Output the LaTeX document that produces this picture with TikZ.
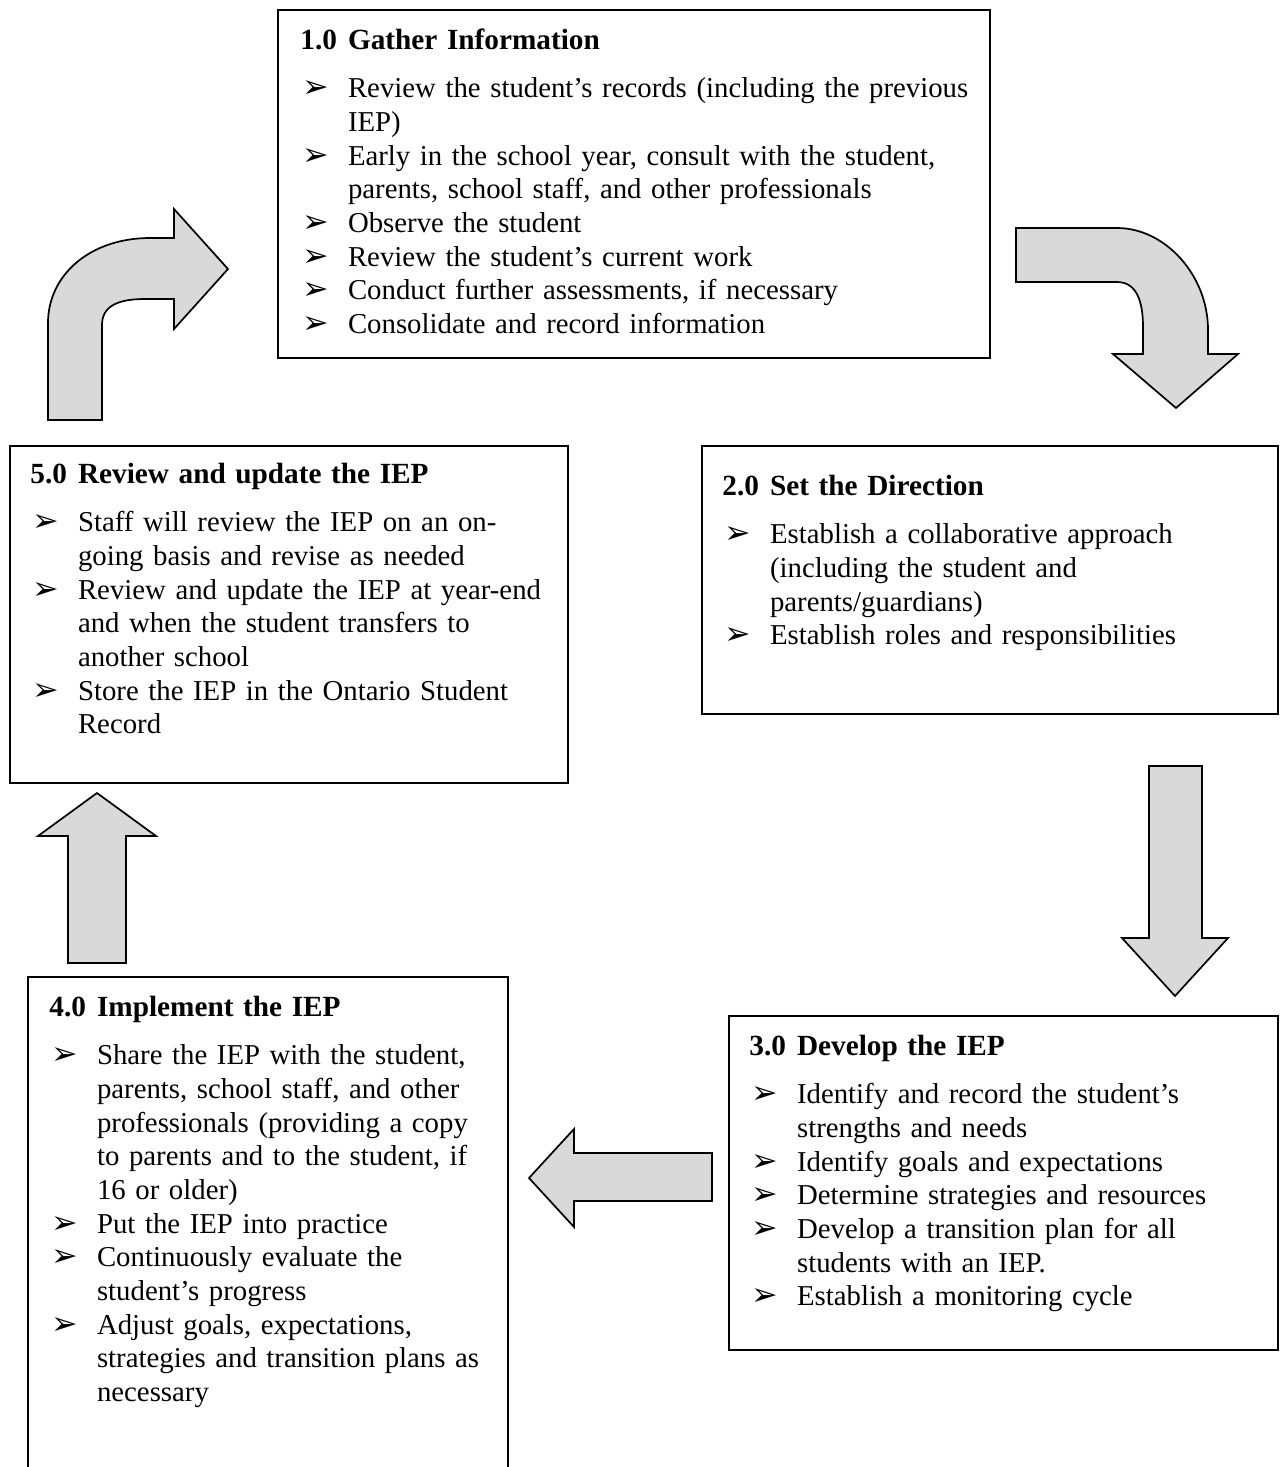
\documentclass[tikz,border=0pt]{standalone}
\usepackage{fontspec}
\setmainfont{Liberation Serif}
\newfontfamily\bulfont{DejaVu Sans}

\definecolor{arrowgray}{HTML}{D9D9D9}

\newlength{\bulind}
\setlength{\bulind}{19.5pt}
\newcommand{\bul}{\hbox to\bulind{\hspace{1pt}{\bulfont\fontsize{13}{13}\selectfont ➢}\hss}}
\newcommand{\bitem}[1]{\par\hangindent=\bulind\hangafter=1\noindent\bul#1}
\newcommand{\steptitle}[2]{\noindent\rule{0pt}{10pt}{\fontsize{12}{13.8}\selectfont\textbf{\makebox[\bulind][l]{#1}#2}}\par\vspace{6pt}}

\tikzset{
    stepbox/.style={draw, line width=0.8pt},
    steptext/.style={anchor=north west, inner sep=0pt, align=left, text width=#1,
        font=\fontsize{11.8}{13.8}\selectfont},
    blockarrow/.style={fill=arrowgray, draw=black, line width=0.7pt, line join=miter}
}

\begin{document}
\begin{tikzpicture}[x=0.41pt, y=-0.41pt]
    \useasboundingbox (0,0) rectangle (1281,1467);

    % Step boxes
    \draw[stepbox] (278,10) rectangle (990,358);
    \draw[stepbox] (702,446) rectangle (1278,714);
    \draw[stepbox] (729,1016) rectangle (1278,1350);
    \draw[stepbox] (28,977) rectangle (508,1500);
    \draw[stepbox] (10,446) rectangle (568,783);

    % Step texts
    \node[steptext=285pt] (gather) at (300,24.6) {%
        \steptitle{1.0}{Gather Information}
        \bitem{Review the student’s records (including the previous\newline IEP)}
        \bitem{Early in the school year, consult with the student,\newline parents, school staff, and other professionals}
        \bitem{Observe the student}
        \bitem{Review the student’s current work}
        \bitem{Conduct further assessments, if necessary}
        \bitem{Consolidate and record information}\par};

    \node[steptext=230pt] (direction) at (722,470.6) {%
        \steptitle{2.0}{Set the Direction}
        \bitem{Establish a collaborative approach\newline (including the student and\newline parents/guardians)}
        \bitem{Establish roles and responsibilities}\par};

    \node[steptext=218pt] (develop) at (749,1030.6) {%
        \steptitle{3.0}{Develop the IEP}
        \bitem{Identify and record the student’s\newline strengths and needs}
        \bitem{Identify goals and expectations}
        \bitem{Determine strategies and resources}
        \bitem{Develop a transition plan for all\newline students with an IEP.}
        \bitem{Establish a monitoring cycle}\par};

    \node[steptext=188pt] (implement) at (49,991.6) {%
        \steptitle{4.0}{Implement the IEP}
        \bitem{Share the IEP with the student,\newline parents, school staff, and other\newline professionals (providing a copy\newline to parents and to the student, if\newline 16 or older)}
        \bitem{Put the IEP into practice}
        \bitem{Continuously evaluate the\newline student’s progress}
        \bitem{Adjust goals, expectations,\newline strategies and transition plans as\newline necessary}\par};

    \node[steptext=222pt] (review) at (30,458.6) {%
        \steptitle{5.0}{Review and update the IEP}
        \bitem{Staff will review the IEP on an on-\newline going basis and revise as needed}
        \bitem{Review and update the IEP at year-end\newline and when the student transfers to\newline another school}
        \bitem{Store the IEP in the Ontario Student\newline Record}\par};

    % Curved arrow 5.0 -> 1.0
    \filldraw[blockarrow] (48,420) -- (48,323)
        .. controls (48,275) and (90,238) .. (150,238)
        -- (174,238) -- (174,209) -- (228,269) -- (174,329) -- (174,299) -- (145,299)
        .. controls (118,299) and (102,306) .. (102,325) -- (102,420) -- cycle;

    % Curved arrow 1.0 -> 2.0
    \filldraw[blockarrow] (1016,228) -- (1117,228)
        .. controls (1165,228) and (1208,275) .. (1208,330)
        -- (1208,354) -- (1238,354) -- (1176,408) -- (1113,354) -- (1143,354) -- (1143,327)
        .. controls (1143,302) and (1137,282) .. (1117,282) -- (1016,282) -- cycle;

    % Straight arrows
    \filldraw[blockarrow] (1149,766) -- (1202,766) -- (1202,938) -- (1228,938)
        -- (1175,996) -- (1122,938) -- (1149,938) -- cycle;
    \filldraw[blockarrow] (712,1153) -- (712,1201) -- (574,1201) -- (574,1227)
        -- (529,1178) -- (574,1129) -- (574,1153) -- cycle;
    \filldraw[blockarrow] (68,963) -- (68,836) -- (38,836) -- (97,793)
        -- (156,836) -- (126,836) -- (126,963) -- cycle;
\end{tikzpicture}
\end{document}
